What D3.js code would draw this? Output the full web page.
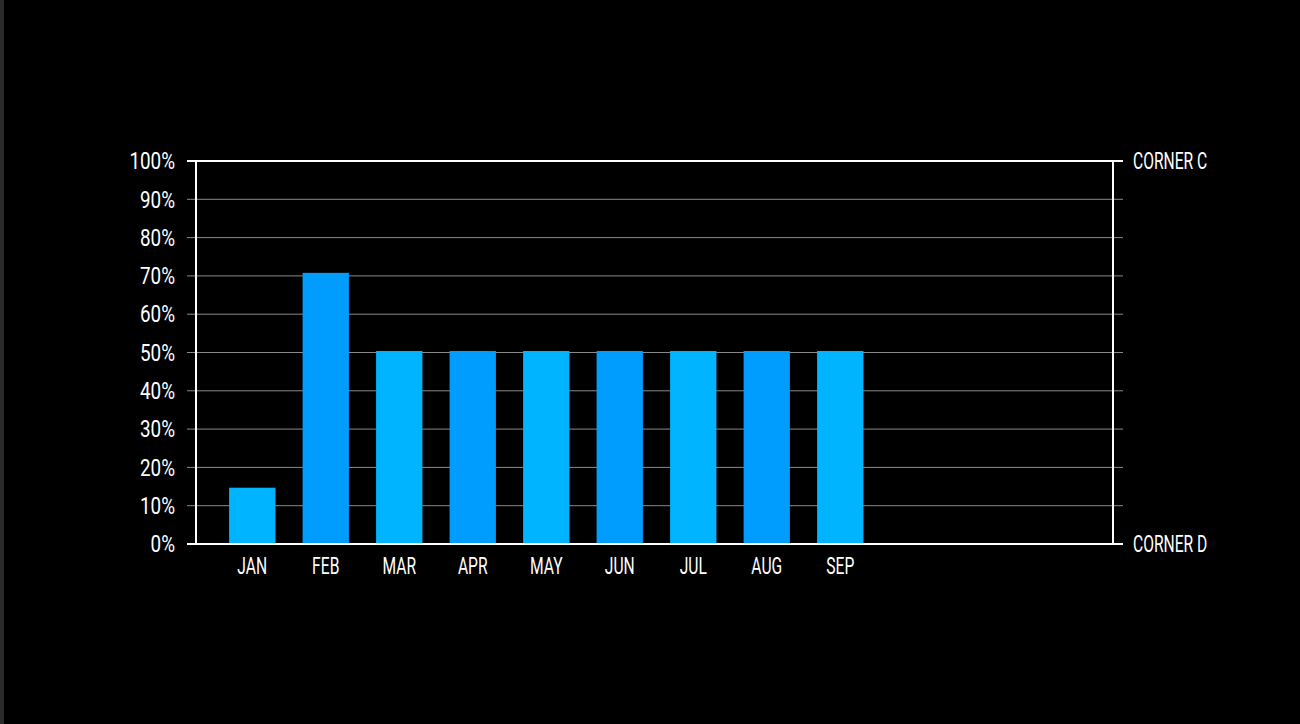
<!DOCTYPE html>
<html>
<head>
<meta charset="utf-8">
<script src="https://cdn.jsdelivr.net/npm/d3@7"></script>
<style>
html,body{margin:0;padding:0;background:#000;}
svg{display:block;}
text{font-family:Roboto,"DejaVu Sans Condensed",sans-serif;font-weight:400;fill:#fff;}
</style>
</head>
<body>
<script>
const categories = ["JAN","FEB","MAR","APR","MAY","JUN","JUL","AUG","SEP"];
const values = [14.7, 70.8, 50.4, 50.4, 50.4, 50.4, 50.4, 50.4, 50.4];
const barColors = ["#00B4FF","#009DFF"];
const yTicks = [0,10,20,30,40,50,60,70,80,90,100];
const rightLabels = ["CORNER C","CORNER D"];

(function(){
const W = 1300, H = 724;
const SX = 0.68, SXN = 0.82, FS = 23;
const svg = d3.select("body").append("svg").attr("width", W).attr("height", H);
svg.append("rect").attr("width", W).attr("height", H).attr("fill", "#000");
svg.append("rect").attr("width", 4).attr("height", H).attr("fill", "#2b2b2b");

const pl = 196, pr = 1113, pt = 161, pb = 544;
const step = 73.5;
const x = d3.scaleBand().domain(categories)
  .range([pl + 19.5, pl + 19.5 + step * categories.length])
  .paddingInner(0.37).paddingOuter(0.185);
const y = d3.scaleLinear().domain([0,100]).range([pb, pt]);

svg.append("g").selectAll("line").data(yTicks.filter(d => d !== 0 && d !== 100)).join("line")
  .attr("x1", pl - 9).attr("x2", pr + 10)
  .attr("y1", d => y(d)).attr("y2", d => y(d))
  .attr("stroke", "#8a8a8a").attr("stroke-width", 1);

svg.append("g").selectAll("rect").data(values).join("rect")
  .attr("x", (d,i) => x(categories[i]))
  .attr("width", x.bandwidth())
  .attr("y", d => y(d))
  .attr("height", d => y(0) - y(d))
  .attr("fill", (d,i) => barColors[i % 2]);

const g = svg.append("g").attr("stroke", "#fff").attr("stroke-width", 2);
g.append("line").attr("x1", pl - 9).attr("x2", pr + 10).attr("y1", y(100)).attr("y2", y(100));
g.append("line").attr("x1", pl - 9).attr("x2", pr + 10).attr("y1", y(0)).attr("y2", y(0));
g.append("line").attr("x1", pl).attr("x2", pl).attr("y1", y(100)).attr("y2", y(0));
g.append("line").attr("x1", pr).attr("x2", pr).attr("y1", y(100)).attr("y2", y(0));

svg.append("g").selectAll("text").data(yTicks).join("text")
  .attr("transform", d => `translate(${pl - 21},${y(d)}) scale(${SXN},1)`)
  .attr("dy", "0.36em").attr("font-weight", 300)
  .attr("text-anchor", "end").attr("font-size", FS)
  .text(d => d + "%");

svg.append("g").selectAll("text").data(categories).join("text")
  .attr("transform", d => `translate(${x(d) + x.bandwidth()/2},${pb + 22}) scale(${SX},1)`)
  .attr("dy", "0.36em")
  .attr("text-anchor", "middle").attr("font-size", FS)
  .text(d => d);

svg.append("g").selectAll("text").data(rightLabels).join("text")
  .attr("transform", (d,i) => `translate(${pr + 20},${i === 0 ? y(100) : y(0)}) scale(${SX},1)`)
  .attr("dy", "0.36em")
  .attr("font-size", FS)
  .text(d => d);
})();
</script>
</body>
</html>
